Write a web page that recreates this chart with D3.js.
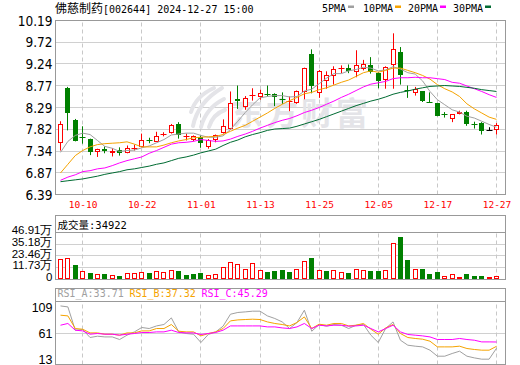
<!DOCTYPE html>
<html>
<head>
<meta charset="utf-8">
<script src="https://cdn.jsdelivr.net/npm/d3@7"></script>
<style>
body{margin:0;background:#fff;}
svg{display:block;}
</style>
</head>
<body>
<svg id="chart" width="520" height="365"></svg>
<script>
//daily k-line for 佛慈制药

const dates = ["09-30","10-08","10-09","10-10","10-11","10-14","10-15","10-16","10-17","10-18",
  "10-21","10-22","10-23","10-24","10-25","10-28","10-29","10-30","10-31","11-01",
  "11-04","11-05","11-06","11-07","11-08","11-11","11-12","11-13","11-14","11-15",
  "11-18","11-19","11-20","11-21","11-22","11-25","11-26","11-27","11-28","11-29",
  "12-02","12-03","12-04","12-05","12-06","12-09","12-10","12-11","12-12","12-13",
  "12-16","12-17","12-18","12-19","12-20","12-23","12-24","12-25","12-26","12-27"];

const open = [7.52,8.72,8.01,7.64,7.61,7.31,7.39,7.30,7.37,7.29,7.40,7.42,7.57,7.54,7.70,7.73,7.93,7.66,7.59,7.64,
  7.42,7.57,7.73,7.83,8.48,8.30,8.55,8.52,8.58,8.59,8.47,8.40,8.39,8.62,9.45,8.60,8.86,8.97,9.15,9.16,
  9.06,9.14,9.21,9.04,8.90,9.21,9.51,8.67,8.61,8.64,8.41,8.38,8.14,8.03,8.14,8.20,7.93,7.95,7.79,7.80];
const high = [7.99,8.74,8.04,7.88,7.61,7.39,7.44,7.40,7.42,7.46,7.48,7.72,7.63,7.76,7.75,7.93,7.97,7.72,7.68,7.68,
  7.60,7.70,8.03,8.64,8.77,8.54,8.71,8.68,8.77,8.60,8.62,8.53,8.66,9.16,9.56,9.11,9.08,9.19,9.21,9.23,
  9.54,9.33,9.39,9.06,9.19,9.91,9.61,8.77,8.74,8.64,8.62,8.39,8.19,8.14,8.22,8.22,7.98,7.97,7.86,7.95];
const low = [7.35,7.79,7.55,7.50,7.25,7.21,7.29,7.22,7.24,7.29,7.35,7.42,7.51,7.54,7.66,7.72,7.61,7.57,7.55,7.41,
  7.39,7.53,7.72,7.80,8.26,8.24,8.44,8.46,8.53,8.32,8.37,8.21,8.37,8.47,8.60,8.50,8.70,8.79,9.04,9.04,
  8.95,9.10,9.03,8.71,8.70,8.70,8.79,8.50,8.55,8.41,8.40,8.10,8.07,7.97,8.14,7.89,7.83,7.70,7.79,7.70];
const close = [7.93,8.18,7.56,7.63,7.31,7.39,7.33,7.35,7.29,7.40,7.41,7.58,7.56,7.67,7.72,7.90,7.68,7.67,7.66,7.51,
  7.59,7.68,7.88,8.39,8.43,8.50,8.57,8.60,8.57,8.53,8.46,8.44,8.64,9.16,8.75,9.08,9.01,9.14,9.16,9.08,
  9.21,9.24,9.06,8.86,9.17,9.57,8.99,8.66,8.70,8.43,8.40,8.10,8.13,8.14,8.19,7.93,7.92,7.78,7.79,7.90];

const volume = [201000,211000,144000,84000,63000,50000,53000,40000,30000,60000,60000,70000,63000,87000,73000,91000,84000,43000,50000,63000,
  40000,50000,121000,171000,154000,104000,161000,94000,77000,84000,94000,73000,101000,184000,214000,91000,84000,91000,73000,63000,
  101000,91000,84000,84000,97000,365000,426460,194000,101000,101000,53000,73000,30000,50000,20000,50000,33000,33000,20000,34922];

const ma5 = [7.31,7.55,7.68,7.73,7.70,7.57,7.44,7.40,7.33,7.35,7.36,7.41,7.45,7.52,7.59,7.69,7.71,7.73,7.73,7.68,
  7.64,7.64,7.67,7.81,7.99,8.18,8.35,8.50,8.53,8.55,8.55,8.52,8.53,8.65,8.69,8.81,8.93,9.03,9.03,9.09,
  9.12,9.17,9.15,9.09,9.11,9.18,9.13,9.05,9.02,8.87,8.64,8.46,8.35,8.24,8.19,8.10,8.06,7.99,7.92,7.86];
const ma10 = [6.86,7.05,7.24,7.35,7.43,7.48,7.50,7.51,7.52,7.54,7.49,7.43,7.43,7.43,7.47,7.52,7.56,7.59,7.63,7.64,
  7.65,7.66,7.70,7.77,7.84,7.90,7.99,8.08,8.17,8.27,8.36,8.44,8.51,8.59,8.62,8.68,8.72,8.78,8.84,8.89,
  8.97,9.05,9.09,9.06,9.10,9.15,9.15,9.10,9.05,8.99,8.91,8.79,8.70,8.63,8.53,8.37,8.26,8.17,8.08,8.03];
const ma20 = [6.70,6.77,6.82,6.89,6.91,6.95,6.97,7.02,7.08,7.13,7.17,7.21,7.29,7.35,7.42,7.49,7.52,7.53,7.55,7.59,
  7.57,7.55,7.56,7.60,7.66,7.71,7.77,7.84,7.90,7.96,8.01,8.05,8.11,8.18,8.23,8.29,8.36,8.43,8.51,8.58,
  8.66,8.74,8.80,8.83,8.86,8.92,8.94,8.94,8.95,8.94,8.94,8.92,8.90,8.84,8.82,8.76,8.70,8.64,8.57,8.51];
const ma30 = [6.67,6.69,6.71,6.73,6.76,6.79,6.83,6.86,6.89,6.93,6.95,6.98,7.01,7.05,7.08,7.13,7.18,7.21,7.25,7.30,
  7.34,7.38,7.46,7.53,7.58,7.65,7.70,7.74,7.79,7.82,7.83,7.84,7.88,7.93,7.98,8.03,8.09,8.15,8.21,8.27,
  8.33,8.38,8.43,8.47,8.52,8.58,8.62,8.65,8.69,8.72,8.75,8.76,8.77,8.76,8.75,8.73,8.71,8.68,8.66,8.64];

const rsiA = [111.9,110.1,67.1,68.4,53.6,56.0,54.7,54.7,49.9,57.9,64.0,72.1,70.2,75.0,77.6,89.8,64.0,61.0,59.7,44.4,
  59.2,64.0,74.5,96.6,99.8,100.9,102.2,102.2,93.5,88.7,82.4,70.2,81.3,104.0,65.2,77.6,74.5,77.6,76.3,70.2,
  76.3,77.6,57.9,44.4,70.2,82.4,48.6,39.4,37.6,36.3,30.2,19.1,19.1,24.1,28.3,19.1,16.0,13.6,13.6,33.71];
const rsiB = [94.8,93.5,70.2,68.9,62.1,62.1,59.7,59.7,57.9,62.1,62.1,65.8,65.8,70.2,70.2,77.6,65.2,64.0,64.0,56.6,
  61.0,64.0,70.2,84.3,86.1,86.8,87.4,86.8,82.4,79.5,77.6,75.0,81.3,91.6,70.2,78.2,76.3,79.5,79.5,75.0,
  76.3,79.5,68.9,59.7,71.3,77.6,61.0,53.6,51.8,50.5,46.8,36.3,36.3,36.3,37.6,33.3,31.5,30.2,30.2,37.32];
const rsiC = [76.3,79.5,67.1,65.8,59.7,61.0,59.7,59.7,57.9,59.7,61.0,62.8,62.8,64.0,64.0,67.1,62.8,62.1,62.1,59.2,
  61.0,62.8,67.1,75.0,75.0,75.0,75.0,75.0,73.2,73.2,71.3,70.2,73.2,79.5,70.2,76.3,75.0,76.3,76.3,74.5,
  75.0,76.3,70.2,64.0,70.2,76.3,64.0,59.2,57.9,56.6,54.7,49.9,49.9,49.9,51.8,49.9,48.6,45.5,45.5,45.29];

const priceTicks = [6.39,6.87,7.34,7.82,8.29,8.77,9.24,9.72,10.19];
const volTicks = [0,117300,234600,351800,469100];
const volTickLabels = ["0","11.73万","23.46万","35.18万","46.91万"];
const rsiTicks = [13,61,109];
const dateTicks = ["10-10","10-22","11-01","11-13","11-25","12-05","12-17","12-27"];

//layout
const svg = d3.select("#chart");
const L = 55.5, R = 505.5;
const mainTop = 20.5, mainBot = 194.5;
const volTop = 215.5, volHead = 232.5, volBot = 279.5;
const rsiTop = 288.5, rsiHead = 301.5, rsiBot = 364.5;

const RED = "#ff0000", GREEN = "#008000", GRID = "#d0d0d0", BORDER = "#999999";
const MONO = "'DejaVu Sans Mono','Liberation Mono',monospace";
const CJK = "'Noto Sans CJK SC',sans-serif";
const NARROW = "'Liberation Sans Narrow','DejaVu Sans Condensed','Liberation Sans',sans-serif";
const SANS = "'Liberation Sans',Arial,sans-serif";

const x = d3.scalePoint().domain(dates).range([60.5, 496.5]);
const px = d => Math.floor(x(d)) + 0.5;
const y = d3.scaleLinear().domain([6.39, 10.19]).range([mainBot, mainTop]);
const yv = d3.scaleLinear().domain([0, volTicks[volTicks.length - 1]]).range([volBot, volHead]);
const yr = d3.scaleLinear().domain([13, 109]).range([359.5, 307.5]);

//grids
function vgrid(top, bot) {
  const g = svg.append("g").attr("transform", "translate(0," + bot + ")")
    .call(d3.axisBottom(x).tickValues(dateTicks).tickSize(-(bot - top)).tickFormat(""));
  g.select(".domain").remove();
  g.selectAll(".tick").attr("transform", d => "translate(" + px(d) + ",0)");
  g.selectAll(".tick line").attr("stroke", "#c8c8c8").attr("stroke-dasharray", "4,3");
}
function hgrid(scale, ticks) {
  const g = svg.append("g").attr("transform", "translate(" + L + ",0)")
    .call(d3.axisLeft(scale).tickValues(ticks).tickSize(-(R - L)).tickFormat(""));
  g.select(".domain").remove();
  g.selectAll(".tick").attr("transform", d => "translate(0," + (Math.floor(scale(d)) + 0.5) + ")");
  g.selectAll(".tick line").attr("stroke", GRID);
}
function ylabels(scale, ticks, fmt, font, size, dy) {
  const g = svg.append("g").attr("transform", "translate(" + L + ",0)")
    .call(d3.axisLeft(scale).tickValues(ticks).tickSize(0).tickPadding(3).tickFormat(fmt));
  g.select(".domain").remove();
  g.selectAll("text").attr("font-family", font).attr("font-size", size).attr("fill", "#000").attr("dy", dy);
}

hgrid(y, priceTicks);
hgrid(yv, volTicks.slice(1, 4));
hgrid(yr, [61]);
vgrid(mainTop, mainBot);
vgrid(volHead, volBot);
vgrid(rsiHead, rsiBot);

//watermark
const wm = svg.append("g").attr("fill", "none").attr("stroke", "#e4e4e8").attr("stroke-width", 4).attr("stroke-linecap", "round");
wm.append("path").attr("d", "M193,126 Q198,102 222,88");
wm.append("path").attr("d", "M201,127 Q206,108 224,99");
wm.append("path").attr("d", "M209,127 Q213,114 225,110");
wm.append("path").attr("d", "M191,112 Q196,96 214,88");
svg.append("text").attr("x", 231).attr("y", 125).attr("font-family", CJK).attr("font-weight", "bold")
  .attr("font-size", 32).attr("letter-spacing", 3).attr("fill", "#e4e4e8").text("东方财富");

ylabels(y, priceTicks, d3.format(".2f"), NARROW, 13.5, "0.34em");
ylabels(yv, volTicks, (d, i) => volTickLabels[i], SANS, 11.5, "0.1em");
ylabels(yr, rsiTicks, d3.format("d"), SANS, 12.5, "0.28em");

const xg = svg.append("g").attr("transform", "translate(0," + mainBot + ")")
  .call(d3.axisBottom(x).tickValues(dateTicks).tickSize(0).tickPadding(7));
xg.select(".domain").remove();
xg.selectAll("text").attr("fill", RED).attr("font-family", MONO).attr("font-size", 9.5);

//candles
const idx = d3.range(dates.length);
const cg = svg.append("g");
idx.forEach(i => {
  const cx = px(dates[i]);
  const o = open[i], c = close[i];
  const col = c > o ? RED : c < o ? GREEN : "#000";
  cg.append("line").attr("x1", cx).attr("x2", cx)
    .attr("y1", y(high[i])).attr("y2", y(low[i])).attr("stroke", col);
  const top = Math.round(y(Math.max(o, c))), bot = Math.round(y(Math.min(o, c)));
  if (bot - top < 2) {
    cg.append("line").attr("x1", cx - 3).attr("x2", cx + 3)
      .attr("y1", top + 0.5).attr("y2", top + 0.5).attr("stroke", col);
  } else if (c > o) {
    cg.append("rect").attr("x", cx - 2).attr("y", top + 0.5).attr("width", 4).attr("height", bot - top - 1)
      .attr("fill", "#fff").attr("stroke", RED);
  } else {
    cg.append("rect").attr("x", cx - 2.5).attr("y", top).attr("width", 5).attr("height", bot - top)
      .attr("fill", GREEN);
  }
});

//moving averages
const maLine = d3.line().x((d, i) => x(dates[i])).y(d => y(d));
[[ma5, "#a0a0a0"], [ma10, "#f5a300"], [ma20, "#ff00ff"], [ma30, "#006b32"]].forEach(([arr, col]) => {
  svg.append("path").datum(arr).attr("d", maLine).attr("fill", "none").attr("stroke", col).attr("stroke-width", 1);
});

//volume
const vg = svg.append("g");
idx.forEach(i => {
  const up = i === 0 ? close[i] >= open[i] : close[i] >= close[i - 1];
  const cx = px(dates[i]);
  const top = Math.round(yv(volume[i]));
  const base = Math.floor(volBot);
  if (!up) {
    vg.append("rect").attr("x", cx - 2.5).attr("y", top).attr("width", 5).attr("height", base - top).attr("fill", GREEN);
  } else if (base - top < 3) {
    vg.append("rect").attr("x", cx - 2.5).attr("y", top).attr("width", 5).attr("height", base - top).attr("fill", RED);
  } else {
    vg.append("rect").attr("x", cx - 2).attr("y", top + 0.5).attr("width", 4).attr("height", base - top - 1)
      .attr("fill", "#fff").attr("stroke", RED);
  }
});

//rsi
const rsiLine = d3.line().x((d, i) => x(dates[i])).y(d => yr(d));
[[rsiA, "#a0a0a0"], [rsiB, "#f5a300"], [rsiC, "#ff00ff"]].forEach(([arr, col]) => {
  svg.append("path").datum(arr).attr("d", rsiLine).attr("fill", "none").attr("stroke", col).attr("stroke-width", 1);
});

//frames
function frame(top, bot, head) {
  svg.append("rect").attr("x", L).attr("y", top).attr("width", R - L).attr("height", bot - top)
    .attr("fill", "none").attr("stroke", BORDER);
  if (head) svg.append("line").attr("x1", L).attr("x2", R).attr("y1", head).attr("y2", head).attr("stroke", BORDER);
}
frame(mainTop, mainBot);
frame(volTop, volBot, volHead);
frame(rsiTop, rsiBot, rsiHead);

//titles
const t = svg.append("text").attr("x", 55).attr("y", 12.5).attr("fill", "#000");
t.append("tspan").attr("font-family", CJK).attr("font-size", 12).text("佛慈制药");
t.append("tspan").attr("font-family", MONO).attr("font-size", 10).text("[002644] 2024-12-27 15:00");

const legend = [["5PMA", "#a0a0a0", 322], ["10PMA", "#f5a300", 363], ["20PMA", "#ff00ff", 408], ["30PMA", "#006b32", 453]];
legend.forEach(([name, col, lx]) => {
  svg.append("text").attr("x", lx).attr("y", 12).attr("font-family", MONO).attr("font-size", 10).attr("fill", "#000").text(name);
  svg.append("rect").attr("x", lx + name.length * 6 + 2).attr("y", 5.5).attr("width", 6).attr("height", 2.5).attr("fill", col);
});

const vt = svg.append("text").attr("x", 57.5).attr("y", 228.5).attr("fill", "#000");
vt.append("tspan").attr("font-family", CJK).attr("font-size", 10.5).text("成交量");
vt.append("tspan").attr("font-family", MONO).attr("font-size", 10.5).text(":" + volume[volume.length - 1]);

const rt = svg.append("text").attr("y", 297).attr("font-family", MONO).attr("font-size", 10);
const last = arr => arr[arr.length - 1].toFixed(2);
rt.append("tspan").attr("x", 57.5).attr("fill", "#a0a0a0").text("RSI_A:" + last(rsiA));
rt.append("tspan").attr("x", 129.5).attr("fill", "#f5a300").text("RSI_B:" + last(rsiB));
rt.append("tspan").attr("x", 201.5).attr("fill", "#ff00ff").text("RSI_C:" + last(rsiC));
</script>
</body>
</html>
